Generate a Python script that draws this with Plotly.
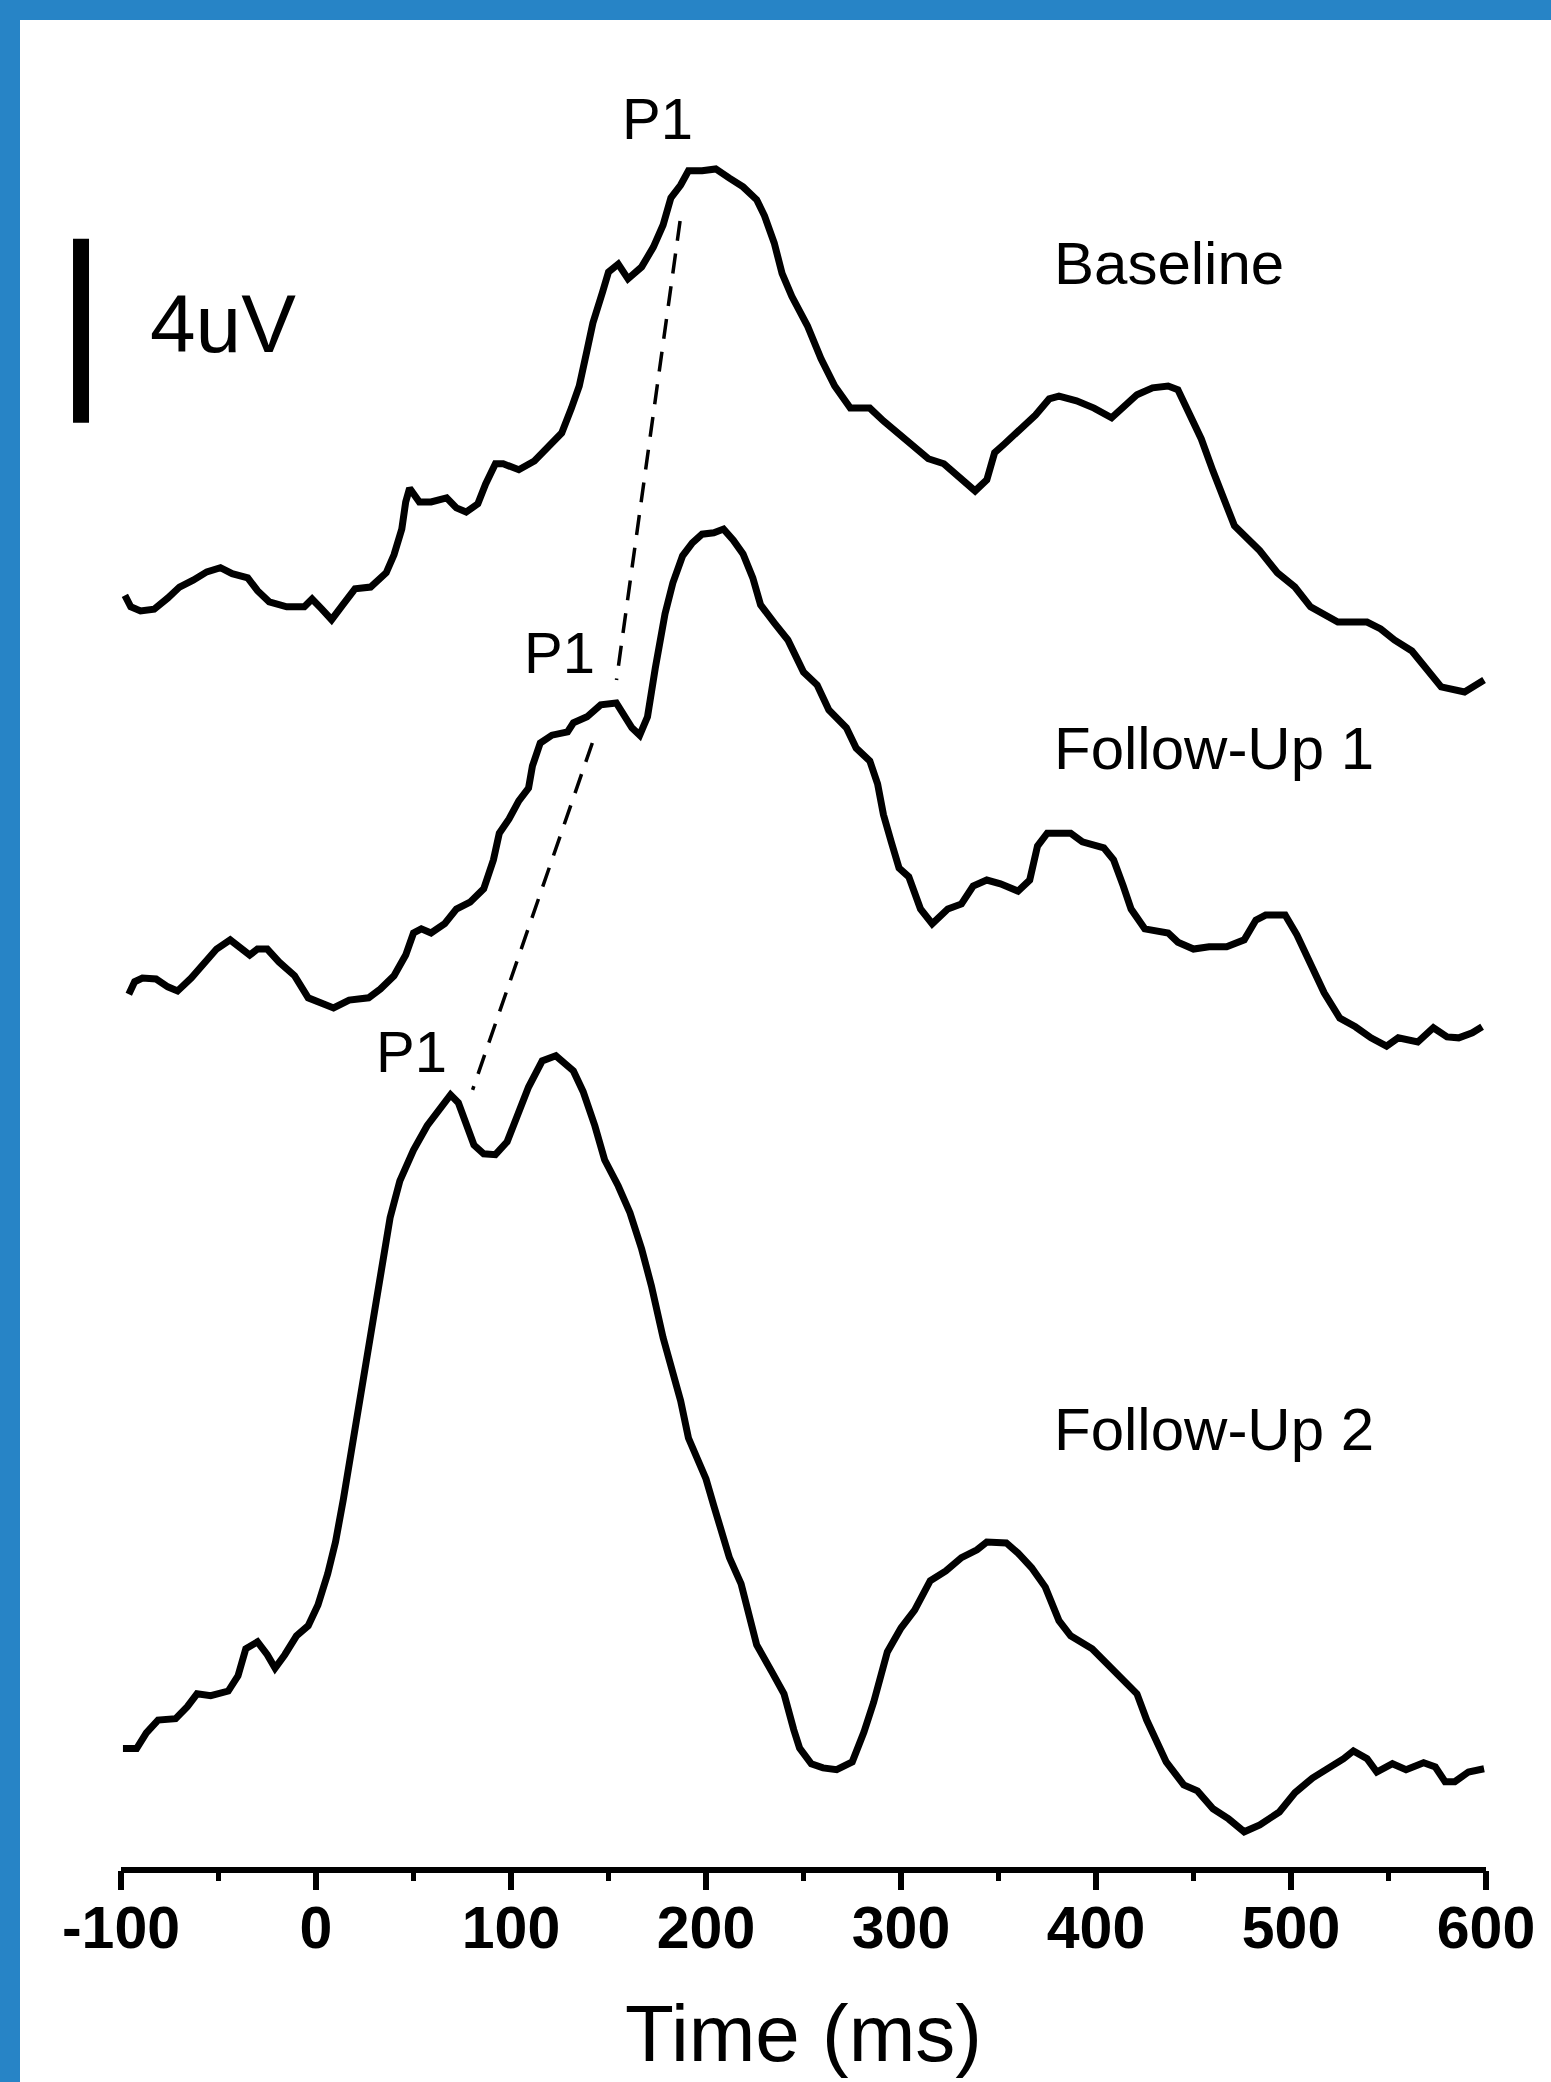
import plotly.graph_objects as go

# ---------------------------------------------------------------------------
# Grand-average ERP waveforms (amplitude in uV, time in ms), one per session.
# Amplitudes are relative to each waveform's own pre-stimulus level.
# ---------------------------------------------------------------------------
TIME_BASELINE = [-98, -95, -90, -83, -76, -70, -63, -56, -49, -43, -35, -30, -24, -15, -6, -2,
                 3, 8, 14, 20, 28, 36, 40, 44, 46, 48, 53, 59, 67, 72, 77, 83, 87, 92, 96, 104,
                 112, 120, 126, 131, 135, 139, 142, 147, 150, 155, 160, 167, 173, 178, 182, 187,
                 191, 198, 205, 212, 219, 226, 230, 235, 239, 244, 252, 259, 266, 274, 284, 291,
                 298, 307, 314, 322, 330, 338, 344, 348, 353, 362, 369, 376, 381, 390, 399, 408,
                 414, 421, 429, 437, 442, 448, 454, 460, 465, 471, 484, 493, 502, 510, 524, 539,
                 546, 553, 562, 570, 577, 589, 599]
AMP_BASELINE = [0.10, -0.15, -0.24, -0.20, 0.04, 0.28, 0.43, 0.61, 0.70, 0.57, 0.48, 0.20, -0.04,
                -0.15, -0.15, 0.02, -0.20, -0.43, -0.09, 0.24, 0.28, 0.59, 0.98, 1.54, 2.13, 2.43,
                2.13, 2.13, 2.22, 2.00, 1.91, 2.09, 2.52, 2.96, 2.96, 2.83, 3.02, 3.35, 3.63, 4.17,
                4.65, 5.43, 6.02, 6.70, 7.13, 7.30, 6.98, 7.24, 7.67, 8.15, 8.74, 9.02, 9.33, 9.33,
                9.37, 9.17, 8.98, 8.70, 8.35, 7.76, 7.10, 6.60, 5.96, 5.24, 4.65, 4.17, 4.17, 3.89,
                3.63, 3.30, 3.07, 2.96, 2.67, 2.37, 2.61, 3.20, 3.39, 3.74, 4.02, 4.37, 4.43, 4.33,
                4.17, 3.96, 4.17, 4.46, 4.61, 4.65, 4.57, 4.07, 3.50, 2.80, 2.24, 1.61, 1.07, 0.59,
                0.28, -0.15, -0.48, -0.48, -0.63, -0.87, -1.11, -1.54, -1.89, -2.00, -1.74]

TIME_FOLLOWUP1 = [-96, -93, -89, -82, -76, -71, -64, -57, -51, -44, -40, -34, -30, -25, -19, -11,
                  -4, 4, 9, 17, 27, 33, 40, 46, 50, 54, 59, 66, 72, 79, 86, 91, 94, 99, 104, 109,
                  111, 115, 121, 129, 132, 139, 146, 154, 158, 162, 166, 170, 174, 179, 183, 188,
                  193, 198, 204, 209, 214, 219, 224, 228, 235, 242, 250, 257, 263, 272, 277, 284,
                  288, 291, 295, 299, 304, 310, 316, 324, 331, 337, 344, 351, 360, 366, 370, 375,
                  387, 393, 404, 409, 414, 418, 425, 437, 442, 450, 458, 467, 476, 482, 487, 497,
                  503, 510, 517, 525, 533, 541, 549, 555, 565, 573, 580, 586, 593, 598]
AMP_FOLLOWUP1 = [-0.20, 0.07, 0.15, 0.13, -0.04, -0.13, 0.15, 0.46, 0.78, 0.98, 0.83, 0.65, 0.78,
                 0.78, 0.50, 0.20, -0.28, -0.43, -0.50, -0.33, -0.28, -0.09, 0.20, 0.65, 1.13,
                 1.22, 1.13, 1.33, 1.65, 1.80, 2.09, 2.72, 3.30, 3.61, 4.00, 4.28, 4.76, 5.26, 5.43,
                 5.50, 5.70, 5.83, 6.09, 6.13, 5.89, 5.59, 5.43, 5.83, 6.89, 8.07, 8.74, 9.33, 9.61,
                 9.80, 9.83, 9.91, 9.67, 9.37, 8.85, 8.26, 7.87, 7.50, 6.80, 6.52, 5.98, 5.59, 5.15,
                 4.87, 4.37, 3.70, 3.11, 2.54, 2.35, 1.65, 1.33, 1.65, 1.76, 2.15, 2.28, 2.20, 2.04,
                 2.28, 3.02, 3.30, 3.30, 3.11, 2.98, 2.72, 2.15, 1.65, 1.22, 1.13, 0.93, 0.78, 0.83,
                 0.83, 0.98, 1.41, 1.52, 1.52, 1.09, 0.46, -0.17, -0.72, -0.91, -1.15, -1.33, -1.15,
                 -1.24, -0.93, -1.13, -1.15, -1.04, -0.91]

TIME_FOLLOWUP2 = [-99, -92, -87, -81, -72, -66, -61, -54, -45, -40, -36, -30, -25, -21, -16, -10,
                  -4, 1, 6, 10, 14, 18, 22, 26, 30, 34, 38, 43, 50, 57, 62, 69, 73, 77, 81, 86, 92,
                  98, 104, 109, 116, 123, 132, 137, 143, 148, 155, 161, 167, 172, 178, 183, 187,
                  191, 195, 200, 204, 208, 212, 218, 222, 226, 234, 240, 245, 248, 254, 260, 267,
                  275, 281, 286, 293, 300, 307, 315, 323, 331, 339, 344, 354, 360, 367, 374, 381,
                  387, 398, 409, 421, 426, 436, 445, 452, 460, 468, 476, 484, 494, 502, 511, 521,
                  527, 532, 539, 544, 552, 559, 568, 574, 579, 584, 591, 599]
AMP_FOLLOWUP2 = [-0.08, -0.08, 0.26, 0.54, 0.57, 0.83, 1.11, 1.07, 1.17, 1.50, 2.09, 2.24, 1.96,
                 1.67, 1.96, 2.37, 2.59, 3.04, 3.72, 4.41, 5.33, 6.35, 7.37, 8.28, 9.41, 10.54,
                 11.46, 12.26, 12.93, 13.46, 13.74, 14.13, 13.96, 13.50, 13.04, 12.85, 12.83, 13.11,
                 13.74, 14.30, 14.87, 14.98, 14.65, 14.20, 13.46, 12.72, 12.15, 11.57, 10.78, 9.98,
                 8.85, 8.15, 7.48, 6.67, 6.24, 5.78, 5.20, 4.63, 4.07, 3.50, 2.83, 2.17, 1.57, 1.11,
                 0.33, -0.07, -0.41, -0.50, -0.54, -0.37, 0.28, 0.93, 2.02, 2.54, 2.93, 3.57, 3.78,
                 4.07, 4.24, 4.41, 4.39, 4.17, 3.85, 3.43, 2.70, 2.37, 2.09, 1.63, 1.11, 0.54, -0.37,
                 -0.87, -1.00, -1.39, -1.61, -1.89, -1.74, -1.46, -1.04, -0.72, -0.48, -0.30, -0.13,
                 -0.30, -0.59, -0.41, -0.54, -0.39, -0.48, -0.80, -0.80, -0.59, -0.52]

SESSIONS = ["Baseline", "Follow-Up 1", "Follow-Up 2"]
# vertical stacking offset of each waveform (uV)
STACK_OFFSET = [27.61, 19.24, 2.72]

# P1 latency-shift connector: (time, amplitude relative to the session waveform)
P1_LINK_UPPER_TIME = [186.7, 154.1]
P1_LINK_UPPER_AMP = [8.24, 6.63]      # Baseline -> Follow-Up 1
P1_LINK_LOWER_TIME = [141.7, 80.3]
P1_LINK_LOWER_AMP = [5.26, 14.24]     # Follow-Up 1 -> Follow-Up 2

# P1 label anchors (time, amplitude relative to the session waveform)
P1_LABEL_TIME = [174.9, 125.1, 49.0]
P1_LABEL_AMP = [10.47, 7.22, 15.07]

SCALE_BAR_UV = 4
XTICKS = [-100, 0, 100, 200, 300, 400, 500, 600]
XTICK_TEXT = ["-100", "0", "100", "200", "300", "400", "500", "600"]
XMINOR = [-50, 50, 150, 250, 350, 450, 550]

# ---------------------------------------------------------------------------
FONT = "Arial, Liberation Sans, sans-serif"
BLACK = "#000000"
FRAME_BLUE = "#2784C6"
W, H = 1551, 2082
X_RANGE = [-162.05, 633.33]
Y_RANGE = [-4.609, 40.652]
AXIS_PX = 1870  # vertical pixel position of the time axis

waves = [(TIME_BASELINE, AMP_BASELINE), (TIME_FOLLOWUP1, AMP_FOLLOWUP1), (TIME_FOLLOWUP2, AMP_FOLLOWUP2)]

fig = go.Figure()

for name, (t, a), off in zip(SESSIONS, waves, STACK_OFFSET):
    fig.add_trace(go.Scatter(
        x=t, y=[v + off for v in a], mode="lines", name=name,
        line=dict(color=BLACK, width=7), showlegend=False, hoverinfo="skip",
    ))

for (tt, aa, offs) in [(P1_LINK_UPPER_TIME, P1_LINK_UPPER_AMP, (STACK_OFFSET[0], STACK_OFFSET[1])),
                       (P1_LINK_LOWER_TIME, P1_LINK_LOWER_AMP, (STACK_OFFSET[1], STACK_OFFSET[2]))]:
    fig.add_trace(go.Scatter(
        x=tt, y=[aa[0] + offs[0], aa[1] + offs[1]], mode="lines",
        line=dict(color=BLACK, width=3.5, dash="20px,13px"),
        showlegend=False, hoverinfo="skip",
    ))

annotations = []
# session names
for name, off, ya in zip(SESSIONS, STACK_OFFSET, [7.32, 5.14, 6.85]):
    annotations.append(dict(x=377.5, y=ya + off, xref="x", yref="y", text=name, showarrow=False,
                            xanchor="left", yanchor="middle",
                            font=dict(family=FONT, size=60, color=BLACK)))
# P1 labels
for tx, ay, off in zip(P1_LABEL_TIME, P1_LABEL_AMP, STACK_OFFSET):
    annotations.append(dict(x=tx, y=ay + off, xref="x", yref="y", text="P1", showarrow=False,
                            xanchor="center", yanchor="middle",
                            font=dict(family=FONT, size=58, color=BLACK)))

# amplitude scale bar
bar_top = 35.46
bar_x = -120.5
annotations.append(dict(x=-86.2, y=bar_top - SCALE_BAR_UV / 2 + 0.15, xref="x", yref="y",
                        text=f"{SCALE_BAR_UV}uV", showarrow=False, xanchor="left", yanchor="middle",
                        font=dict(family=FONT, size=82, color=BLACK)))

# time axis title, centred under the axis extent
annotations.append(dict(x=(XTICKS[0] + XTICKS[-1]) / 2, y=(H - 2033) / H, xref="x", yref="paper",
                        text="Time (ms)", showarrow=False, xanchor="center", yanchor="middle",
                        font=dict(family=FONT, size=80, color=BLACK)))

shapes = [
    # scale bar
    dict(type="line", xref="x", yref="y", x0=bar_x, x1=bar_x, y0=bar_top - SCALE_BAR_UV, y1=bar_top,
         line=dict(color=BLACK, width=16)),
    # time axis line
    dict(type="line", xref="x", yref="y", x0=XTICKS[0], x1=XTICKS[-1], y0=0, y1=0,
         line=dict(color=BLACK, width=6)),
    # slide frame
    dict(type="rect", xref="paper", yref="paper", x0=0, x1=20 / W, y0=0, y1=1,
         fillcolor=FRAME_BLUE, line=dict(width=0), layer="above"),
    dict(type="rect", xref="paper", yref="paper", x0=0, x1=1, y0=1 - 20 / H, y1=1,
         fillcolor=FRAME_BLUE, line=dict(width=0), layer="above"),
]

fig.update_layout(
    width=W, height=H,
    margin=dict(l=0, r=0, t=0, b=0, pad=0),
    paper_bgcolor="white", plot_bgcolor="white",
    showlegend=False,
    annotations=annotations,
    shapes=shapes,
    xaxis=dict(
        range=X_RANGE, domain=[0, 1], anchor="free", position=(H - AXIS_PX) / H,
        showline=False, showgrid=False, zeroline=False,
        tickmode="array", tickvals=XTICKS, ticktext=XTICK_TEXT,
        ticks="outside", ticklen=19, tickwidth=6, tickcolor=BLACK,
        tickfont=dict(family=FONT, size=59, color=BLACK, weight="bold"),
        ticklabelstandoff=-13,
        minor=dict(tickmode="array", tickvals=XMINOR, ticks="outside", ticklen=10,
                   tickwidth=5, tickcolor=BLACK, showgrid=False),
        automargin=False, fixedrange=True,
    ),
    yaxis=dict(range=Y_RANGE, domain=[0, 1], visible=False, fixedrange=True),
)

fig.write_html("out.html")
